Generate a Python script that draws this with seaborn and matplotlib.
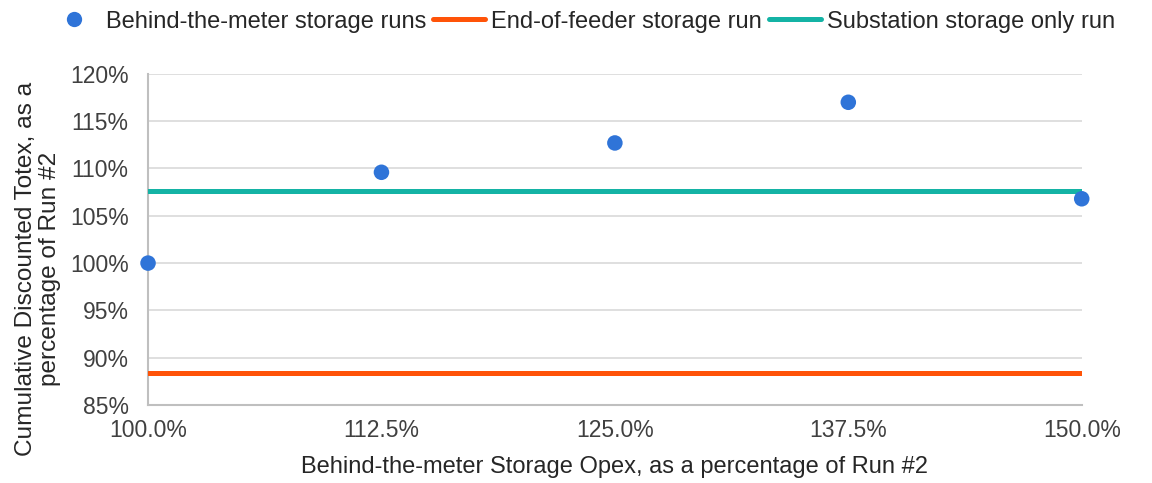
import matplotlib
matplotlib.use("Agg")
import matplotlib.pyplot as plt
from matplotlib.ticker import FuncFormatter
from matplotlib.legend_handler import HandlerLine2D
from matplotlib.lines import Line2D
import seaborn as sns
import pandas as pd
import numpy as np

# Behind-the-meter storage opex (% of Run #2) and resulting cumulative discounted totex
opex_pct = [100.0, 112.5, 125.0, 137.5, 150.0]
btm_totex = [100.0, 109.6, 112.7, 117.0, 106.8]

# Reference runs shown as flat lines across the opex range
line_x = [100.0, 150.0]
end_of_feeder_totex = [88.35, 88.35]
substation_totex = [107.65, 107.65]

y_ticks = [85, 90, 95, 100, 105, 110, 115, 120]
x_ticks = [100.0, 112.5, 125.0, 137.5, 150.0]

sns.set_theme(style="white")
plt.rcParams["font.family"] = ["Liberation Sans", "DejaVu Sans"]

FS = 17

fig = plt.figure(figsize=(11.52, 4.83), dpi=100)
ax = fig.add_axes([0.1285, 0.1615, 0.8105, 0.6855])

c_blue = "#2f74d8"
c_orange = "#ff5308"
c_teal = "#14b3a5"

btm_df = pd.DataFrame({"opex": opex_pct, "totex": btm_totex})
sns.lineplot(x=line_x, y=end_of_feeder_totex, ax=ax, color=c_orange, linewidth=3.6,
             zorder=3, legend=False)
sns.lineplot(x=line_x, y=substation_totex, ax=ax, color=c_teal, linewidth=3.6,
             zorder=3, legend=False)
sns.scatterplot(data=btm_df, x="opex", y="totex", ax=ax, color=c_blue, s=125,
                edgecolor="none", zorder=4, clip_on=False, legend=False)

ax.set_xlim(100, 150)
ax.set_ylim(85, 120)
ax.set_xticks(x_ticks)
ax.set_yticks(y_ticks)
ax.xaxis.set_major_formatter(FuncFormatter(lambda v, _: f"{v:.1f}%"))
ax.yaxis.set_major_formatter(FuncFormatter(lambda v, _: f"{v:.0f}%"))
ax.tick_params(axis="both", length=0, labelsize=16.5, colors="#404040")
ax.tick_params(axis="x", pad=10)
ax.tick_params(axis="y", pad=14)

ax.grid(axis="y", color="#d9d9d9", linewidth=1.2)
ax.grid(axis="x", visible=False)
for side in ["top", "right"]:
    ax.spines[side].set_visible(False)
for side in ["left", "bottom"]:
    ax.spines[side].set_color("#bfbfbf")
    ax.spines[side].set_linewidth(1.5)

ax.set_xlabel("Behind-the-meter Storage Opex, as a percentage of Run #2",
              fontsize=FS, color="#262626", labelpad=10)
ax.set_ylabel("Cumulative Discounted Totex, as a\npercentage of Run #2",
              fontsize=17.6, color="#262626", linespacing=1.12)
ax.yaxis.set_label_coords(-0.093, 0.41)


class MarkerRight(HandlerLine2D):
    """Place a single legend marker near the right end of its handle box."""
    def get_xdata(self, legend, xdescent, ydescent, width, height, fontsize):
        xdata = np.array([-xdescent, -xdescent + width])
        return xdata, np.array([-xdescent + width - 0.4 * fontsize])


h_dot = Line2D([], [], linestyle="none", marker="o", markersize=11,
               markerfacecolor=c_blue, markeredgecolor="none")
h_orange = Line2D([], [], color=c_orange, linewidth=3.6)
h_teal = Line2D([], [], color=c_teal, linewidth=3.6)

fig.legend([h_dot, h_orange, h_teal],
           ["Behind-the-meter storage runs", "End-of-feeder storage run",
            "Substation storage only run"],
           loc="center", bbox_to_anchor=(0.5045, 0.955), ncol=3, frameon=False,
           fontsize=FS, handlelength=2.2, handletextpad=0.25, columnspacing=0.3,
           borderaxespad=0, handler_map={h_dot: MarkerRight(numpoints=1)})

fig.savefig("out.png", dpi=100)
